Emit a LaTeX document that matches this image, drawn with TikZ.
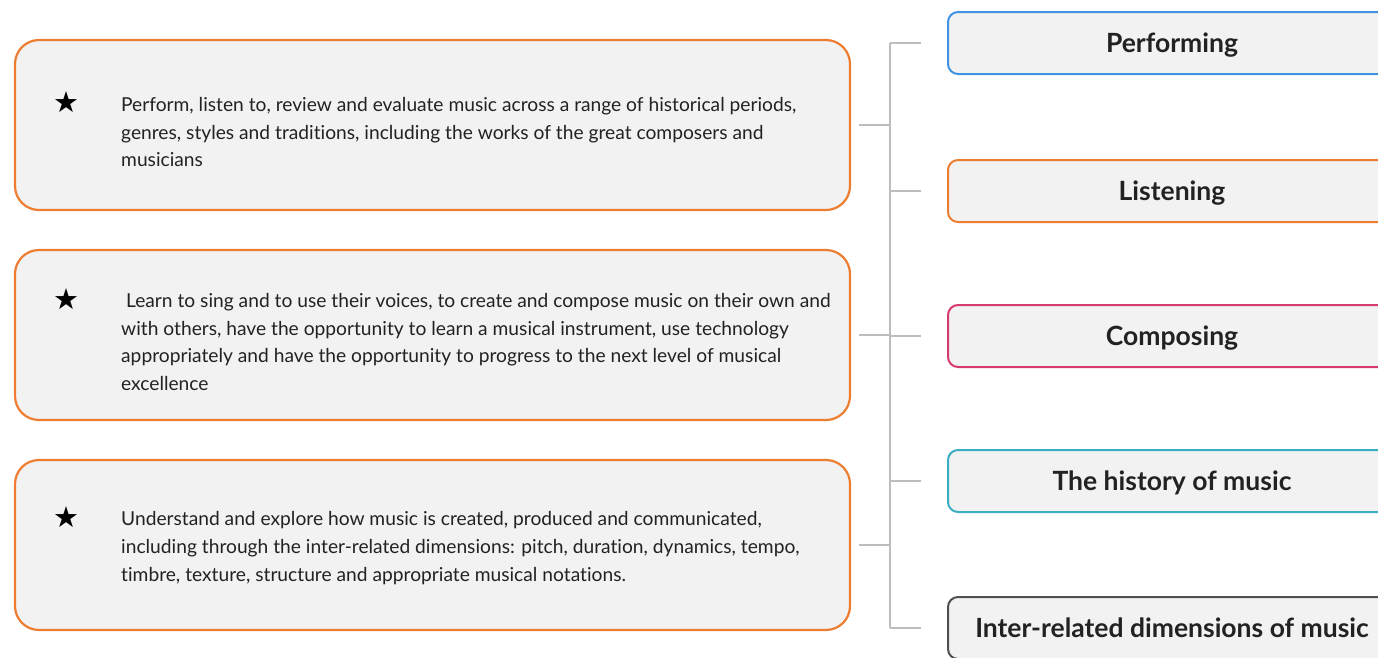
\documentclass[tikz,border=0pt]{standalone}
\usepackage{fontspec}
\setmainfont{Lato}[Ligatures=NoCommon]
\newfontfamily\symfont{DejaVu Sans}
\usetikzlibrary{positioning,calc}
\definecolor{orangeline}{HTML}{ED7D31}
\definecolor{blueline}{HTML}{3F93E0}
\definecolor{pinkline}{HTML}{D63A6E}
\definecolor{tealline}{HTML}{3AAFC2}
\definecolor{darkline}{HTML}{505050}
\definecolor{boxfill}{HTML}{F2F2F2}
\definecolor{linkgray}{HTML}{BDBDBD}
\definecolor{ink}{HTML}{222222}

\begin{document}
\begin{tikzpicture}[x=1pt,y=1pt,
  aim/.style={draw=orangeline,line width=2.2pt,fill=boxfill,rounded corners=24pt,minimum width=835pt,minimum height=170pt},
  strand/.style={line width=2pt,fill=boxfill,rounded corners=10pt,minimum width=448pt,minimum height=62pt,text depth=0pt,text=ink,font=\fontsize{26.5}{30}\selectfont\bfseries},
  aimtext/.style={anchor=west,align=left,inner sep=0,text=ink,font=\fontsize{19.2}{27.7}\selectfont},
  bullet/.style={inner sep=0,font=\symfont\fontsize{29}{29}\selectfont},
  link/.style={draw=linkgray,line width=2pt}]
\clip(0,0)rectangle(1378,-657);
% aims
\node[aim](B1)at(432.5,-125){};
\node[aim](B2)at(432.5,-335){};
\node[aim](B3)at(432.5,-545){};
\node[bullet](S1)at(66,-102){★};
\node[bullet](S2)at(66,-299){★};
\node[bullet](S3)at(66,-517){★};
\node[aimtext](A1)at(121,-132){Perform, listen to, review and evaluate music across a range of historical periods,\\genres, styles and traditions, including the works of the great composers and\\musicians};
\node[aimtext](A2)at(121,-342){\ Learn to sing and to use their voices, to create and compose music on their own and\\with others, have the opportunity to learn a musical instrument, use technology\\appropriately and have the opportunity to progress to the next level of musical\\excellence};
\node[aimtext](A3)at(121,-548){Understand and explore how music is created, produced and communicated,\\including through the inter-related dimensions: pitch, duration, dynamics, tempo,\\timbre, texture, structure and appropriate musical notations.};
% strands
\node[strand,draw=blueline](R1)at(1172,-43){Performing};
\node[strand,draw=orangeline](R2)at(1172,-191){Listening};
\node[strand,draw=pinkline](R3)at(1172,-336){Composing};
\node[strand,draw=tealline](R4)at(1172,-481){The history of music};
\node[strand,draw=darkline](R5)at(1172,-628){Inter-related dimensions of music};
% links
\coordinate(T)at(890,0);
\draw[link](T|-R1.west)--(T|-R5.west);
\foreach \r in {R1,R2,R3,R4,R5}
  \draw[link,shorten >=26pt](T|-\r.west)--(\r.west);
\foreach \b in {B1,B2,B3}
  \draw[link,shorten <=8pt](\b.east)--(T|-\b.east);
\end{tikzpicture}
\end{document}
